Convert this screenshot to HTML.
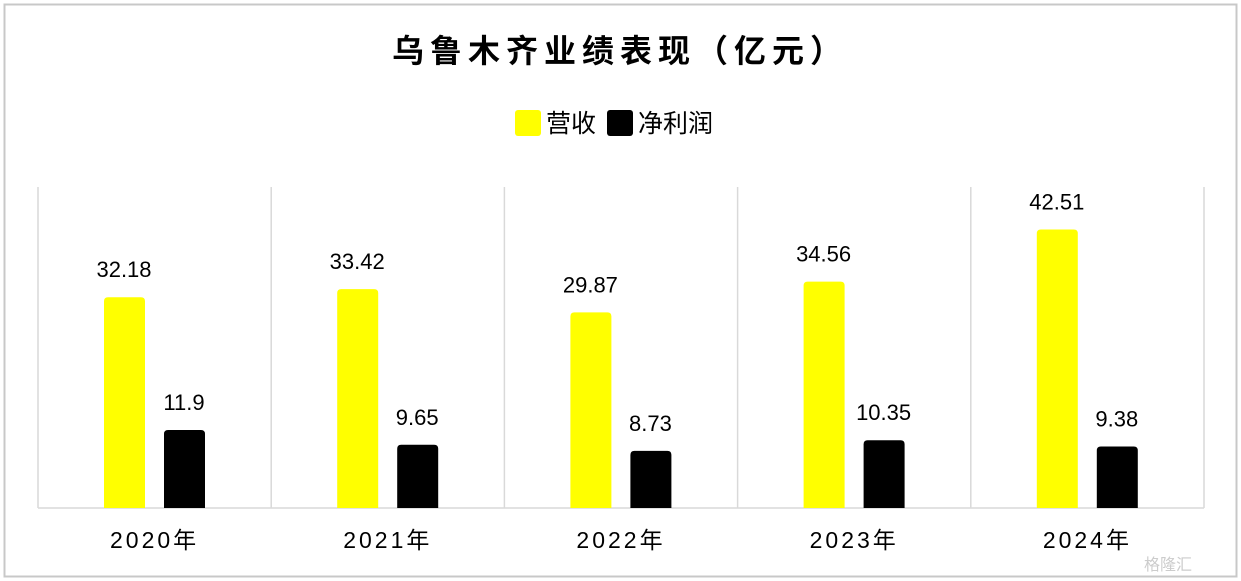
<!DOCTYPE html>
<html><head><meta charset="utf-8"><style>
body{margin:0;background:#fff}
svg{display:block;font-family:"Liberation Sans","Noto Sans CJK SC",sans-serif}
</style></head><body>
<svg id="c" width="1241" height="581">
<rect x="4.5" y="4.5" width="1232" height="572" fill="#fff" stroke="#c8c8c8" stroke-width="2"/>
<text x="620" y="62" text-anchor="middle" font-size="32" font-weight="bold" letter-spacing="6" fill="#000">乌鲁木齐业绩表现（亿元）</text>
<g>
<rect x="515" y="110" width="26" height="26" rx="3" fill="#ffff00"/>
<text x="546" y="132" font-size="25">营收</text>
<rect x="607" y="110" width="26" height="26" rx="3" fill="#000"/>
<text x="638" y="132" font-size="25">净利润</text>
</g>
<g id="plot"></g>
<text x="1168" y="570" font-size="16" fill="#ccc" text-anchor="middle">格隆汇</text>
</svg>
<script>
const categories=["2020年","2021年","2022年","2023年","2024年"];
const revenue=[32.18,33.42,29.87,34.56,42.51];
const profit=[11.9,9.65,8.73,10.35,9.38];
const revenueLabels=["32.18","33.42","29.87","34.56","42.51"];
const profitLabels=["11.9","9.65","8.73","10.35","9.38"];
const NS="http://www.w3.org/2000/svg";
const plotG=document.getElementById('plot');
const L=38,R=1204,base=508,plotTop=187,scale=6.55;
const cw=(R-L)/categories.length;
const yPos=v=>base-v*scale;
function mk(t,a){const e=document.createElementNS(NS,t);for(const k in a)e.setAttribute(k,a[k]);plotG.appendChild(e);return e;}
function bar(x,w,v,fill){const yt=yPos(v),r=4;
return mk('path',{d:`M${x},${base}V${yt+r}Q${x},${yt} ${x+r},${yt}H${x+w-r}Q${x+w},${yt} ${x+w},${yt+r}V${base}Z`,fill:fill});}
for(let i=0;i<=categories.length;i++){
 const l=mk('line',{x1:L+i*cw,x2:L+i*cw,y1:plotTop,y2:base,stroke:'#d9d9d9','stroke-width':1.5});
 
 
}
const ax=mk('line',{x1:L,x2:R,y1:base,y2:base,stroke:'#d9d9d9','stroke-width':1.5});


categories.forEach((c,i)=>{
 const x0=L+i*cw;
 const b1=bar(x0+66,41,revenue[i],'#ffff00');
 
 
 const b2=bar(x0+126,41,profit[i],'#000');
 
 
 const t1=mk('text',{x:x0+86,y:yPos(revenue[i])-20,'text-anchor':'middle','font-size':22});
 t1.textContent=revenueLabels[i];
 
 
 const t2=mk('text',{x:x0+146,y:yPos(profit[i])-20,'text-anchor':'middle','font-size':22});
 t2.textContent=profitLabels[i];
 
 
 const t3=mk('text',{x:x0+cw/2,y:548,'text-anchor':'middle','font-size':23,'letter-spacing':3});
 t3.textContent=c;
 
 
});
</script>
</body></html>
